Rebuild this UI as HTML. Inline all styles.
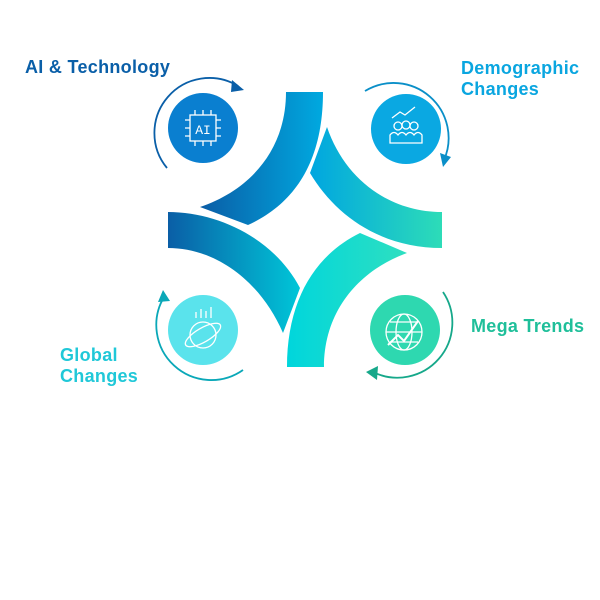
<!DOCTYPE html>
<html><head><meta charset="utf-8"><style>
body{margin:0;background:#fff;width:600px;height:600px;overflow:hidden;font-family:"Liberation Sans",sans-serif}
.t{position:absolute;font-weight:bold;font-size:18px;line-height:21px;letter-spacing:0.3px}
</style></head><body>
<svg width="600" height="600" style="position:absolute;left:0;top:0">
<defs>
<linearGradient id="g1" x1="0" x2="1"><stop offset="0" stop-color="#0a5da6"/><stop offset="1" stop-color="#00a9e0"/></linearGradient>
<linearGradient id="g2" x1="0" x2="1"><stop offset="0" stop-color="#00a6e0"/><stop offset="1" stop-color="#2ddcb8"/></linearGradient>
<linearGradient id="g3" x1="0" x2="1"><stop offset="0" stop-color="#0a5ea6"/><stop offset="1" stop-color="#00c6d8"/></linearGradient>
<linearGradient id="g4" x1="0" x2="1"><stop offset="0" stop-color="#00d6dc"/><stop offset="1" stop-color="#2edfc0"/></linearGradient>
</defs>
<path d="M323,92 C323,165 292,205 248,225 L200,207 C250,190 286,150 286,92 Z" fill="url(#g1)"/>
<path d="M327,127 C345,180 390,212 442,212 L442,248 C380,248 335,215 310,173 Z" fill="url(#g2)"/>
<path d="M168,212 C220,212 275,240 300,288 L283,333 C260,280 215,248 168,248 Z" fill="url(#g3)"/>
<path d="M287,367 C287,300 315,255 360,233 L407,253 C360,270 324,310 324,367 Z" fill="url(#g4)"/>
<circle cx="203" cy="128" r="35" fill="#0a7fd0"/>
<circle cx="406" cy="129" r="35" fill="#0aa8e2"/>
<circle cx="203" cy="330" r="35" fill="#5ae3ec"/>
<circle cx="405" cy="330" r="35" fill="#2ed8b0"/>
<g fill="none" stroke-width="1.8">
<path d="M167,168 A55,55 0 0 1 238,86" stroke="#0a5fa8"/>
<path d="M365,91 A55,55 0 0 1 444,160" stroke="#0a8fc8"/>
<path d="M243,370 A55,55 0 0 1 164,297" stroke="#0aa8b8"/>
<path d="M443,292 A55,55 0 0 1 373,372" stroke="#16a88a"/>
</g>
<polygon points="244,90 232,80 231,92" fill="#0a5fa8"/>
<polygon points="443,167 440,153 451,157" fill="#0a8fc8"/>
<polygon points="163,290 158,302 170,301" fill="#0aa8b8"/>
<polygon points="366,372 378,366 377,380" fill="#16a88a"/>
<g fill="none" stroke="#fff" stroke-width="1.3">
<rect x="190" y="115" width="26" height="26"/>
<text x="203" y="134" font-size="13" fill="#fff" stroke="none" text-anchor="middle" font-family="Liberation Mono">AI</text>
<path d="M185,120h5M185,128h5M185,136h5M216,120h5M216,128h5M216,136h5M195,110v5M203,110v5M211,110v5M195,141v5M203,141v5M211,141v5"/>
<path d="M392,118 l8,-6 5,3 10,-8"/>
<circle cx="398" cy="126" r="4"/><circle cx="406" cy="125" r="4"/><circle cx="414" cy="126" r="4"/>
<path d="M390,143v-8q4,-5 8,0q4,-5 8,0q4,-5 8,0q4,-5 8,0v8z"/>
<circle cx="203" cy="335" r="13"/><ellipse cx="203" cy="335" rx="20" ry="7" transform="rotate(-30 203 335)"/>
<path d="M196,318v-6M201,318v-9M206,318v-7M211,318v-11"/>
<circle cx="404" cy="332" r="18"/><ellipse cx="404" cy="332" rx="8" ry="18"/><path d="M386,332h36M390,322h28M390,342h28"/>
<path d="M388,345 l10,-10 6,6 14,-20" stroke-width="2"/>
</g>
</svg>
<div class="t" style="left:25px;top:57px;color:#0a5fa8">AI &amp; Technology</div>
<div class="t" style="left:461px;top:58px;color:#0aa6e0">Demographic<br>Changes</div>
<div class="t" style="left:471px;top:316px;color:#1fbf9a">Mega Trends</div>
<div class="t" style="left:60px;top:345px;color:#20c8d8">Global<br>Changes</div>
</body></html>
